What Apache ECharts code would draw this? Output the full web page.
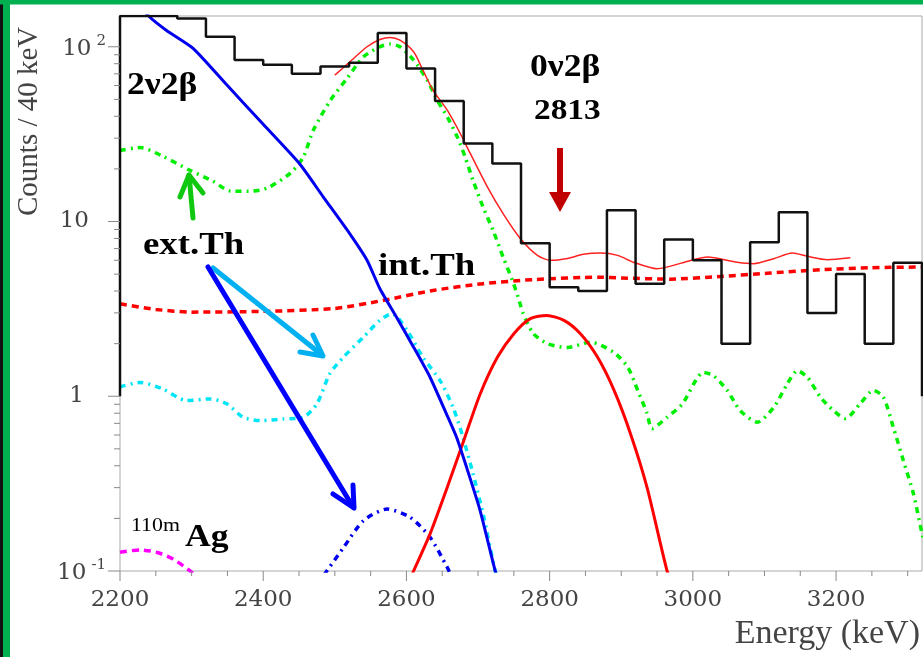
<!DOCTYPE html>
<html><head><meta charset="utf-8">
<script src="https://cdn.jsdelivr.net/npm/echarts@6/dist/echarts.min.js"></script>
<style>html,body{margin:0;padding:0;background:#fff}#c{width:923px;height:657px}</style>
</head><body><div id="c"></div>
<script>
// ---- data ----
const xMin = 2200, xMax = 3320, yMin = 0.1, yMax = 150;
const binWidth = 40;
const binLow = [2200,2240,2280,2320,2360,2400,2440,2480,2520,2560,2600,2640,2680,2720,2760,2800,2840,2880,2920,2960,3000,3040,3080,3120,3160,3200,3240,3280];
const counts = [150,150,145,114,84,79,70,77,81,120,75,49,28,21.5,7.5,4.2,4.0,11.6,4.4,7.9,6.0,2.0,7.6,11.3,3.0,5.0,2.0,5.8];

const bb2nuE = [2220,2240,2265,2302,2350,2400,2450,2484,2521,2545,2563,2586,2610,2633,2656,2670,2684,2703,2724,2730];
const bb2nuV = [190,150,124,98,60,36,21.6,13.8,8.5,6.0,4.12,2.84,1.91,1.285,0.79,0.582,0.392,0.221,0.1,0.085];

const extThE = [2200,2228,2260,2298,2330,2354,2380,2405,2438,2456,2470,2494,2517,2540,2563,2577,2591,2610,2629,2643,2657,2671,2682,2693,2707,2721,2735,2748,2756,2763,2777,2797,2825,2857,2889,2909,2923,2936,2943,2964,2985,3015,3029,3048,3066,3090,3113,3132,3146,3160,3178,3196,3213,3234,3252,3266,3280,3294,3308,3321];
const extThV = [25.5,26.5,23.6,19.6,17.0,14.95,14.9,15.5,18.9,23.4,33.3,49.5,65.9,87.6,100,103.6,100,83.9,64.4,49.5,39.7,30.5,23.4,17.2,12.1,8.9,6.26,4.6,3.69,2.98,2.29,2.0,1.9,2.04,1.79,1.47,1.08,0.80,0.653,0.758,0.9,1.37,1.31,1.08,0.83,0.71,0.865,1.18,1.40,1.285,0.99,0.83,0.745,0.91,1.08,0.99,0.664,0.428,0.277,0.156];

const intThE = [2200,2228,2260,2293,2326,2349,2372,2396,2428,2456,2475,2493,2512,2540,2563,2580,2601,2623,2647,2665,2679,2693,2707,2724,2730];
const intThV = [1.13,1.20,1.10,0.945,0.966,0.905,0.758,0.726,0.742,0.758,0.905,1.344,1.673,2.18,2.72,2.97,2.38,1.67,1.23,0.865,0.582,0.36,0.213,0.1,0.085];

const extBiE = [2485,2512,2540,2573,2605,2633,2657,2662];
const extBiV = [0.095,0.136,0.194,0.226,0.203,0.156,0.105,0.095];

const agE = [2200,2228,2251,2274,2298,2305];
const agV = [0.128,0.132,0.128,0.117,0.1,0.094];

const bgE = [2200,2250,2300,2400,2500,2568,2637,2707,2777,2871,2900,2969,3039,3108,3178,3248,3320];
const bgV = [3.38,3.14,3.03,3.06,3.18,3.54,4.03,4.41,4.65,4.8,4.75,4.68,4.85,5.07,5.3,5.44,5.49];

const peakE = [2605,2610,2633,2657,2680,2703,2727,2750,2773,2796,2820,2843,2867,2890,2913,2936,2964,2970];
const peakV = [0.09,0.1,0.163,0.301,0.557,1.03,1.67,2.28,2.78,2.90,2.72,2.28,1.67,1.08,0.609,0.301,0.1,0.09];

const fitE = [2500,2521,2545,2563,2577,2591,2610,2623,2637,2657,2675,2689,2713,2735,2759,2783,2801,2825,2847,2871,2895,2917,2950,2997,3020,3062,3085,3113,3139,3160,3188,3220];
const fitV = [68.8,82,100,110,113,109,93.6,73.5,56.5,43.4,32,24.6,15.8,11.1,8.0,6.4,6.0,6.15,6.49,6.6,6.4,5.85,5.37,5.99,6.26,5.85,5.74,6.13,6.6,6.32,6.05,6.2];

const xMajorTicks = [2200,2400,2600,2800,3000,3200];
const xMinorTicks = [2250,2300,2350,2450,2500,2550,2650,2700,2750,2850,2900,2950,3050,3100,3150,3250,3300];
const yMajorTicks = [0.1,1,10,100];
const yMinorTicks = [0.2,0.3,0.4,0.5,0.6,0.7,0.8,0.9,2,3,4,5,6,7,8,9,20,30,40,50,60,70,80,90];

// ---- build ----
const zip = (a, b) => a.map((v, i) => [v, b[i]]);
const histData = [[binLow[0], 1]];
binLow.forEach((lo, i) => { histData.push([lo, counts[i]], [lo + binWidth, counts[i]]); });
histData.push([binLow[binLow.length - 1] + binWidth, 1]);

function curve(name, E, V, color, width, type, smooth) {
  return { name, type: 'line', data: zip(E, V), showSymbol: false, symbol: 'none', smooth: smooth,
    lineStyle: { color, width, type, cap: 'butt' }, clip: true, silent: true, z: 3 };
}
function tickSeries(vals, isX, len) {
  return { type: 'custom', silent: true, clip: false, z: 5,
    data: vals.map(v => isX ? [v, yMin] : [xMin, v]),
    renderItem: (p, api) => {
      const pt = api.coord([api.value(0), api.value(1)]);
      return { type: 'line', shape: isX ? { x1: pt[0], y1: pt[1], x2: pt[0], y2: pt[1] + len }
                                        : { x1: pt[0], y1: pt[1], x2: pt[0] - len, y2: pt[1] },
               style: { stroke: '#888', lineWidth: 1 } };
    } };
}

const SERIF = '"DejaVu Serif", serif';
const chart = echarts.init(document.getElementById('c'), null, { renderer: 'canvas' });

function yLabel(v) {
  const e = Math.round(Math.log10(v));
  if (Math.abs(Math.log10(v) - e) > 1e-6) return '';
  if (e === 2) return '{a|10}{s|2}';
  if (e === 1) return '{a10|10}';
  if (e === 0) return '{a1|1}';
  if (e === -1) return '{a|10}{s|-1}';
  return '';
}

const option = {
  backgroundColor: '#fff',
  animation: false,
  grid: { left: 120, top: 16, width: 802, height: 555, show: true, borderColor: '#aaa', borderWidth: 1,
          backgroundColor: 'transparent', outerBoundsMode: 'none', containLabel: false },
  xAxis: { type: 'value', min: xMin, max: xMax, interval: 200,
    axisLine: { show: false }, axisTick: { show: false }, splitLine: { show: false },
    axisLabel: { margin: 18, showMaxLabel: false, color: '#444', fontFamily: SERIF, fontSize: 23,
                 formatter: v => String(v) } },
  yAxis: { type: 'log', logBase: 10, min: yMin, max: yMax,
    axisLine: { show: false }, axisTick: { show: false }, splitLine: { show: false },
    axisLabel: { margin: 14, showMaxLabel: false, formatter: yLabel,
      rich: {
        a: { fontFamily: SERIF, fontSize: 23, color: '#444', verticalAlign: 'bottom' },
        a10: { fontFamily: SERIF, fontSize: 23, color: '#444', padding: [0, 17, 0, 0] },
        a1: { fontFamily: SERIF, fontSize: 23, color: '#444', padding: [0, 22, 0, 0] },
        s: { fontFamily: SERIF, fontSize: 15, color: '#444', verticalAlign: 'bottom', padding: [0, 0, 12, 5] }
      } } },
  series: [
    curve('bg', bgE, bgV, '#ff0000', 3.5, [7, 5], 0.25),
    curve('ag', agE, agV, '#ff00ff', 3.5, [7, 5], 0.25),
    curve('extBi', extBiE, extBiV, '#0000ee', 3.5, [6, 5, 2, 5], 0.25),
    curve('intTh', intThE, intThV, '#00e5f5', 3.5, [6, 5, 2, 5], 0.25),
    curve('extTh', extThE, extThV, '#00ee00', 3.5, [6, 5, 2, 5], 0.25),
    curve('peak', peakE, peakV, '#ff0000', 3, 'solid', 0.25),
    curve('bb2nu', bb2nuE, bb2nuV, '#0000ee', 3, 'solid', 0.2),
    curve('fit', fitE, fitV, '#ff2020', 1.5, 'solid', 0.25),
    { name: 'data', type: 'line', data: histData, showSymbol: false, symbol: 'none', clip: true, silent: true, z: 4,
      lineStyle: { color: '#111', width: 2.5 } },
    tickSeries(xMajorTicks, true, 10),
    tickSeries(xMinorTicks, true, 5),
    tickSeries(yMajorTicks, false, 12),
    tickSeries(yMinorTicks, false, 6)
  ],
  graphic: [
    // frame
    { type: 'rect', shape: { x: 0, y: 0, width: 3, height: 657 }, style: { fill: '#111' }, z: 200 },
    { type: 'rect', shape: { x: 3, y: 0, width: 7, height: 657 }, style: { fill: '#00b050' }, z: 200 },
    { type: 'rect', shape: { x: 0, y: 0, width: 923, height: 4.5 }, style: { fill: '#00b050' }, z: 201 },
    // axis titles
    { type: 'text', x: 29, y: 216, rotation: Math.PI / 2, z: 150,
      style: { text: 'Counts / 40 keV', font: '29px "Liberation Serif"', fill: '#444', align: 'left', verticalAlign: 'middle' } },
    { type: 'text', x: 920, y: 634, z: 150,
      style: { text: 'Energy (keV)', font: '34px "Liberation Serif"', fill: '#444', align: 'right', verticalAlign: 'middle' } },
    // annotations
    { type: 'text', x: 127, y: 86, scaleX: 1.15, z: 150,
      style: { text: '2ν2β', font: 'bold 31px "Liberation Serif"', fill: '#000', align: 'left', verticalAlign: 'middle' } },
    { type: 'text', x: 143, y: 246, scaleX: 1.15, z: 150,
      style: { text: 'ext.Th', font: 'bold 32px "Liberation Serif"', fill: '#000', align: 'left', verticalAlign: 'middle' } },
    { type: 'text', x: 378, y: 267, scaleX: 1.15, z: 150,
      style: { text: 'int.Th', font: 'bold 32px "Liberation Serif"', fill: '#000', align: 'left', verticalAlign: 'middle' } },
    { type: 'text', x: 530, y: 68, scaleX: 1.15, z: 150,
      style: { text: '0ν2β', font: 'bold 31px "Liberation Serif"', fill: '#000', align: 'left', verticalAlign: 'middle' } },
    { type: 'text', x: 534, y: 112, scaleX: 1.15, z: 150,
      style: { text: '2813', font: 'bold 29px "Liberation Serif"', fill: '#000', align: 'left', verticalAlign: 'middle' } },
    { type: 'text', x: 131, y: 526, scaleX: 1.15, z: 150,
      style: { text: '110m', font: '19px "Liberation Serif"', fill: '#000', align: 'left', verticalAlign: 'middle' } },
    { type: 'text', x: 185, y: 538, scaleX: 1.15, z: 150,
      style: { text: 'Ag', font: 'bold 31px "Liberation Serif"', fill: '#000', align: 'left', verticalAlign: 'middle' } },
    // arrows
    { type: 'polyline', z: 160, shape: { points: [[193, 218], [189, 175]] }, style: { stroke: '#10c810', lineWidth: 5, lineCap: 'round' } },
    { type: 'polyline', z: 160, shape: { points: [[180, 197], [189, 175], [203, 193]] }, style: { stroke: '#10c810', lineWidth: 5, fill: null, lineCap: 'round', lineJoin: 'round' } },
    { type: 'polyline', z: 160, shape: { points: [[213, 268], [322, 355]] }, style: { stroke: '#00b0f0', lineWidth: 5, lineCap: 'round' } },
    { type: 'polyline', z: 160, shape: { points: [[300, 352], [323, 356], [313, 335]] }, style: { stroke: '#00b0f0', lineWidth: 5, fill: null, lineCap: 'round', lineJoin: 'round' } },
    { type: 'polyline', z: 160, shape: { points: [[208, 267], [353, 507]] }, style: { stroke: '#0000ff', lineWidth: 5, lineCap: 'round' } },
    { type: 'polyline', z: 160, shape: { points: [[333, 494], [354, 508], [353, 485]] }, style: { stroke: '#0000ff', lineWidth: 5, fill: null, lineCap: 'round', lineJoin: 'round' } },
    { type: 'rect', z: 160, shape: { x: 557, y: 148, width: 6, height: 46 }, style: { fill: '#c00000' } },
    { type: 'polygon', z: 160, shape: { points: [[549, 192], [571, 192], [560, 212]] }, style: { fill: '#c00000' } }
  ]
};
chart.setOption(option);
</script>
</body></html>
